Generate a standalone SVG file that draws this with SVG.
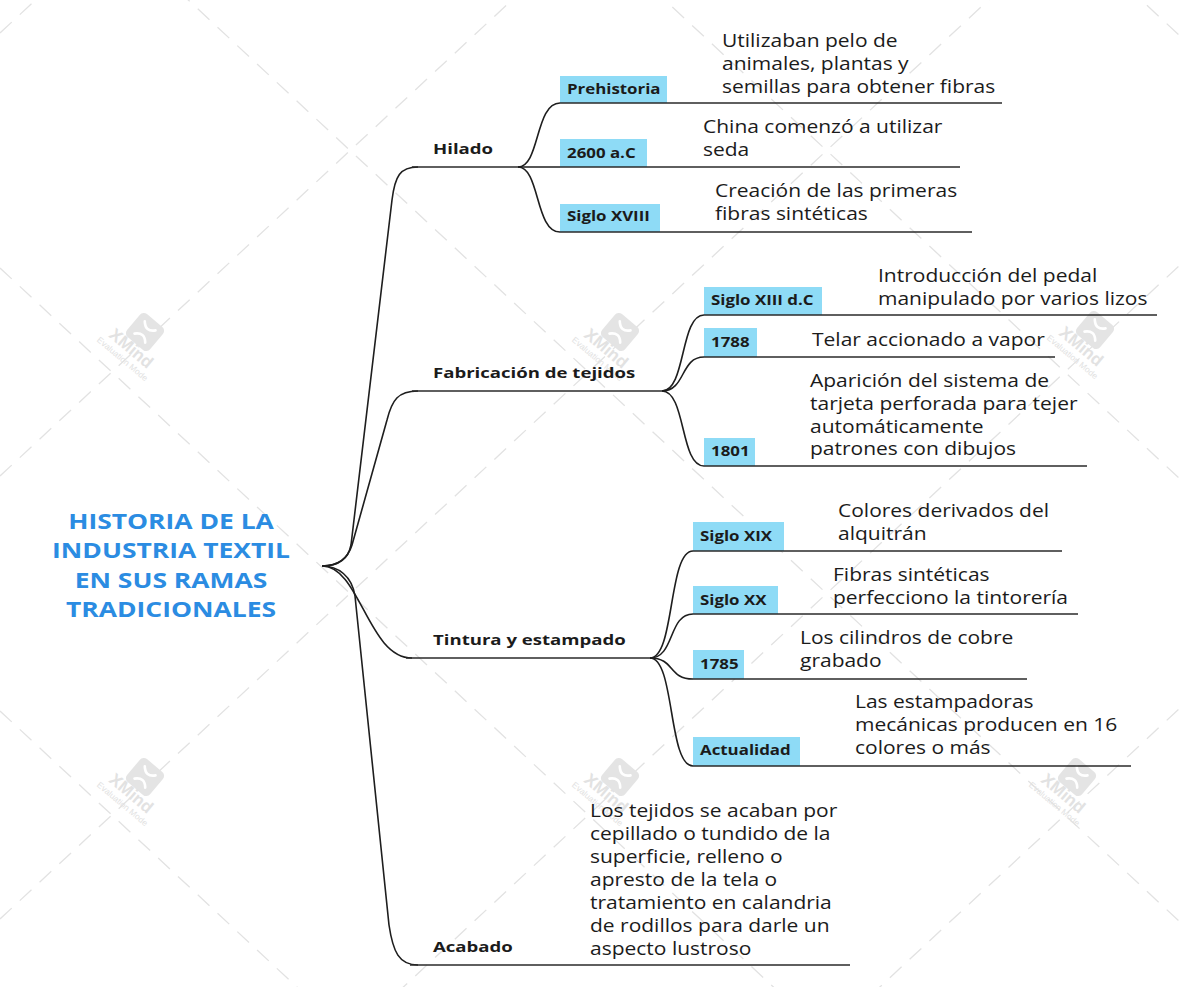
<svg xmlns="http://www.w3.org/2000/svg" width="1180" height="987" viewBox="0 0 1180 987">
<defs>
<style>
.bg{fill:#ffffff}
.wl{stroke:#e2e2e2;stroke-width:1.3;stroke-dasharray:16 11;fill:none}
.wm-box{fill:#e4e4e4}
.wm-x{stroke:#ffffff;stroke-width:2.6;fill:none;stroke-linecap:round}
.wm-t{font-family:"Liberation Sans",Arial,sans-serif;font-weight:bold;font-size:17px;fill:#e2e2e2}
.wm-s{font-family:"Liberation Sans",Arial,sans-serif;font-size:8.5px;fill:#e2e2e2}
.title{font-family:"Open Sans","Noto Sans",sans-serif;font-weight:bold;font-size:21px;fill:#2b8ce2;text-anchor:middle}
.br{font-family:"Open Sans","Noto Sans",sans-serif;font-weight:bold;font-size:15px;fill:#1b1b1b}
.lbl{font-family:"Open Sans","Noto Sans",sans-serif;font-weight:bold;font-size:13.5px;fill:#1b1b1b}
.txt{font-family:"Open Sans","Noto Sans",sans-serif;font-size:17.5px;fill:#1b1b1b}
.box{fill:#8edbf6}
.ul{stroke:#2a2a2a;stroke-width:1.5;fill:none}
.con{stroke:#1e1e1e;stroke-width:1.6;fill:none}
</style>
<g id="wm">
<rect class="wm-box" x="-15" y="-15" width="30" height="30" rx="5"/>
<path class="wm-x" d="M-7,-8 Q0,0 7,-8 M-7,8 Q0,0 7,8"/>
<text class="wm-t" x="0" y="27" text-anchor="middle">XMind</text>
<text class="wm-s" x="0" y="38" text-anchor="middle">Evaluation Mode</text>
</g>
</defs>
<rect class="bg" x="0" y="0" width="1180" height="987"/>
<g id="watermark">
<path class="wl" d="M0,-1061 L1180,36 M0,-618 L1180,479 M0,-175 L1180,922 M0,268 L1180,1365 M0,711 L1180,1808"/>
<path class="wl" d="M0,33 L1180,-1064 M0,476 L1180,-621 M0,919 L1180,-178 M0,1362 L1180,265 M0,1805 L1180,708"/>
<use href="#wm" transform="translate(145,332) rotate(40)"/>
<use href="#wm" transform="translate(620,332) rotate(40)"/>
<use href="#wm" transform="translate(1095,330) rotate(40)"/>
<use href="#wm" transform="translate(145,777) rotate(40)"/>
<use href="#wm" transform="translate(620,777) rotate(40)"/>
<use href="#wm" transform="translate(1077,777) rotate(40)"/>
</g>
<g id="connectors">
<path class="con" d="M322,566 C338,566 348,560 351,545 L392,200 C395,176 400,167 418,167"/>
<path class="con" d="M322,566 C338,566 348,558 352,545 L387,420 C392,400 398,391 418,391"/>
<path class="con" d="M322,566 C360,566 368,658 412,658"/>
<path class="con" d="M322,566 C338,566 352,576 355,596 L389,925 C393,952 399,965 418,965"/>
<path class="con" d="M518,167 C540,167 535,103 560,103"/>
<path class="con" d="M518,167 H560"/>
<path class="con" d="M518,167 C540,167 535,232 560,232"/>
<path class="con" d="M662,391 C686,391 680,315 704,315"/>
<path class="con" d="M662,391 C686,391 680,357 704,357"/>
<path class="con" d="M662,391 C686,391 680,466 704,466"/>
<path class="con" d="M650,658 C675,658 668,551 693,551"/>
<path class="con" d="M650,658 C675,658 668,614 693,614"/>
<path class="con" d="M650,658 C675,658 668,679 693,679"/>
<path class="con" d="M650,658 C675,658 668,766 693,766"/>
</g>
<g id="root">
<g transform="translate(171,0) scale(1.26,1)">
<text class="title" x="0" y="529">HISTORIA DE LA</text>
<text class="title" x="0" y="558">INDUSTRIA TEXTIL</text>
<text class="title" x="0" y="588">EN SUS RAMAS</text>
<text class="title" x="0" y="617">TRADICIONALES</text>
</g>
</g>
<g id="hilado">
<path class="ul" d="M412,167 H518"/>
<text class="br" x="0" y="154" transform="translate(433,0) scale(1.24,1)">Hilado</text>
</g>
<g id="prehistoria">
<rect class="box" x="560" y="76" width="107" height="27"/>
<path class="ul" d="M560,103 H1002"/>
<text class="lbl" x="0" y="94" transform="translate(567,0) scale(1.25,1)">Prehistoria</text>
<g transform="translate(722,0) scale(1.2,1)">
<text class="txt" x="0" y="47">Utilizaban pelo de</text>
<text class="txt" x="0" y="70">animales, plantas y</text>
<text class="txt" x="0" y="93">semillas para obtener fibras</text>
</g>
</g>
<g id="a2600">
<rect class="box" x="560" y="139" width="87" height="28"/>
<path class="ul" d="M560,167 H960"/>
<text class="lbl" x="0" y="158" transform="translate(567,0) scale(1.25,1)">2600 a.C</text>
<g transform="translate(703,0) scale(1.2,1)">
<text class="txt" x="0" y="133">China comenzó a utilizar</text>
<text class="txt" x="0" y="156">seda</text>
</g>
</g>
<g id="sigloXVIII">
<rect class="box" x="560" y="204" width="100" height="28"/>
<path class="ul" d="M560,232 H972"/>
<text class="lbl" x="0" y="221" transform="translate(567,0) scale(1.25,1)">Siglo XVIII</text>
<g transform="translate(715,0) scale(1.2,1)">
<text class="txt" x="0" y="197">Creación de las primeras</text>
<text class="txt" x="0" y="220">fibras sintéticas</text>
</g>
</g>
<g id="fabricacion">
<path class="ul" d="M412,391 H662"/>
<text class="br" x="0" y="378" transform="translate(433,0) scale(1.24,1)">Fabricación de tejidos</text>
</g>
<g id="sigloXIII">
<rect class="box" x="704" y="287" width="118" height="28"/>
<path class="ul" d="M704,315 H1157"/>
<text class="lbl" x="0" y="305" transform="translate(711,0) scale(1.25,1)">Siglo XIII d.C</text>
<g transform="translate(878,0) scale(1.2,1)">
<text class="txt" x="0" y="282">Introducción del pedal</text>
<text class="txt" x="0" y="305">manipulado por varios lizos</text>
</g>
</g>
<g id="y1788">
<rect class="box" x="704" y="328" width="53" height="29"/>
<path class="ul" d="M704,357 H1055"/>
<text class="lbl" x="0" y="347" transform="translate(711,0) scale(1.25,1)">1788</text>
<text class="txt" x="0" y="346" transform="translate(812,0) scale(1.2,1)">Telar accionado a vapor</text>
</g>
<g id="y1801">
<rect class="box" x="704" y="438" width="51" height="28"/>
<path class="ul" d="M704,466 H1087"/>
<text class="lbl" x="0" y="456" transform="translate(711,0) scale(1.25,1)">1801</text>
<g transform="translate(810,0) scale(1.2,1)">
<text class="txt" x="0" y="387">Aparición del sistema de</text>
<text class="txt" x="0" y="410">tarjeta perforada para tejer</text>
<text class="txt" x="0" y="433">automáticamente</text>
<text class="txt" x="0" y="455">patrones con dibujos</text>
</g>
</g>
<g id="tintura">
<path class="ul" d="M406,658 H650"/>
<text class="br" x="0" y="645" transform="translate(433,0) scale(1.24,1)">Tintura y estampado</text>
</g>
<g id="sigloXIX">
<rect class="box" x="693" y="522" width="91" height="29"/>
<path class="ul" d="M693,551 H1062"/>
<text class="lbl" x="0" y="541" transform="translate(700,0) scale(1.25,1)">Siglo XIX</text>
<g transform="translate(838,0) scale(1.2,1)">
<text class="txt" x="0" y="517">Colores derivados del</text>
<text class="txt" x="0" y="540">alquitrán</text>
</g>
</g>
<g id="sigloXX">
<rect class="box" x="693" y="586" width="85" height="28"/>
<path class="ul" d="M693,614 H1078"/>
<text class="lbl" x="0" y="605" transform="translate(700,0) scale(1.25,1)">Siglo XX</text>
<g transform="translate(833,0) scale(1.2,1)">
<text class="txt" x="0" y="581">Fibras sintéticas</text>
<text class="txt" x="0" y="604">perfecciono la tintorería</text>
</g>
</g>
<g id="y1785">
<rect class="box" x="693" y="650" width="51" height="29"/>
<path class="ul" d="M693,679 H1027"/>
<text class="lbl" x="0" y="669" transform="translate(700,0) scale(1.25,1)">1785</text>
<g transform="translate(800,0) scale(1.2,1)">
<text class="txt" x="0" y="644">Los cilindros de cobre</text>
<text class="txt" x="0" y="667">grabado</text>
</g>
</g>
<g id="actualidad">
<rect class="box" x="693" y="737" width="107" height="29"/>
<path class="ul" d="M693,766 H1131"/>
<text class="lbl" x="0" y="755" transform="translate(700,0) scale(1.25,1)">Actualidad</text>
<g transform="translate(855,0) scale(1.2,1)">
<text class="txt" x="0" y="708">Las estampadoras</text>
<text class="txt" x="0" y="731">mecánicas producen en 16</text>
<text class="txt" x="0" y="754">colores o más</text>
</g>
</g>
<g id="acabado">
<path class="ul" d="M410,965 H850"/>
<text class="br" x="0" y="952" transform="translate(433,0) scale(1.24,1)">Acabado</text>
<g transform="translate(590,0) scale(1.2,1)">
<text class="txt" x="0" y="817">Los tejidos se acaban por</text>
<text class="txt" x="0" y="840">cepillado o tundido de la</text>
<text class="txt" x="0" y="863">superficie, relleno o</text>
<text class="txt" x="0" y="886">apresto de la tela o</text>
<text class="txt" x="0" y="909">tratamiento en calandria</text>
<text class="txt" x="0" y="932">de rodillos para darle un</text>
<text class="txt" x="0" y="955">aspecto lustroso</text>
</g>
</g>
</svg>
